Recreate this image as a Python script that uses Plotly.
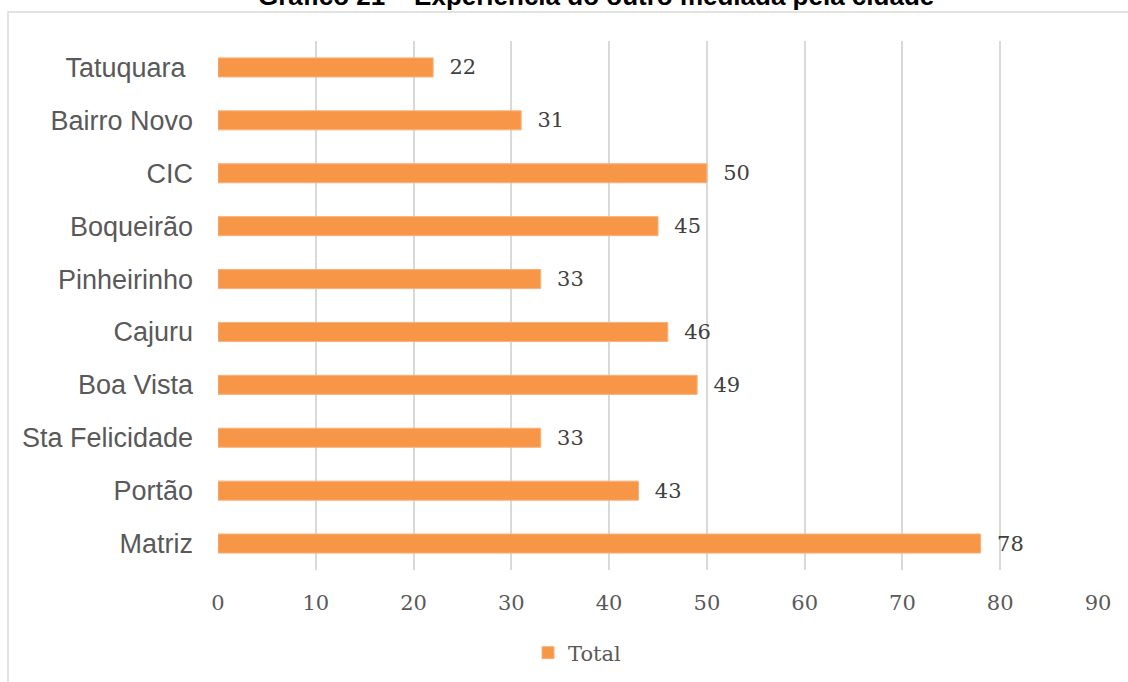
import plotly.graph_objects as go

# Regionais (Excel order: first category drawn at the bottom)
regionais = ["Matriz", "Portão", "Sta Felicidade", "Boa Vista", "Cajuru",
             "Pinheirinho", "Boqueirão", "CIC", "Bairro Novo", "Tatuquara "]
totais = [78, 43, 33, 49, 46, 33, 45, 50, 31, 22]
x_ticks = [0, 10, 20, 30, 40, 50, 60, 70, 80, 90]

titulo = "Gráfico 21 – Experiência do outro mediada pela cidade"

BAR = "#F79646"
SERIF = "DejaVu Serif"
SANS = "Liberation Sans, Arial"

fig = go.Figure()
fig.add_trace(go.Bar(
    y=regionais,
    x=totais,
    orientation="h",
    name="Total",
    marker=dict(color=BAR, line=dict(color="#FAB07A", width=1)),
    width=0.36,
    text=[f"  {v}" for v in totais],
    textposition="outside",
    constraintext="none",
    textfont=dict(family=SERIF, size=21, color="#404040"),
    cliponaxis=False,
))

W, H = 1128, 682
L, R, T, B = 218, 30, 41, 112
pw, ph = W - L - R, H - T - B


def px_x(x):
    return (x - L) / pw


def px_y(y):
    return (H - B - y) / ph


fig.update_layout(
    width=W, height=H,
    margin=dict(l=L, r=R, t=T, b=B, autoexpand=False),
    paper_bgcolor="white",
    plot_bgcolor="white",
    showlegend=True,
    legend=dict(
        orientation="h",
        x=px_x(528), y=px_y(653), xanchor="left", yanchor="middle",
        font=dict(family=SERIF, size=21, color="#595959"),
        itemwidth=30,
    ),
    xaxis=dict(
        range=[0, 90],
        tickvals=x_ticks,
        showgrid=True, gridcolor="#D9D9D9", gridwidth=1.5,
        zeroline=False, showline=False,
        ticks="", ticklabelstandoff=18,
        tickfont=dict(family=SERIF, size=21, color="#595959"),
    ),
    yaxis=dict(
        range=[-0.5, 9.5],
        showgrid=False, zeroline=False, showline=False,
        ticks="", ticklabelstandoff=24,
        tickfont=dict(family=SANS, size=27, color="#595959"),
    ),
    annotations=[dict(
        text=f"<b>{titulo}</b>", showarrow=False,
        xref="paper", yref="paper",
        x=px_x(596), y=px_y(13),
        xanchor="center", yanchor="bottom",
        font=dict(family=SANS, size=26, color="black"),
    )],
)

# Chart area border
fig.add_shape(
    type="rect", xref="paper", yref="paper",
    x0=px_x(8), x1=px_x(W + 20),
    y0=px_y(H + 20), y1=px_y(12),
    line=dict(color="#D9D9D9", width=1.5), fillcolor="rgba(0,0,0,0)",
    layer="below",
)

fig.write_html("out.html")
